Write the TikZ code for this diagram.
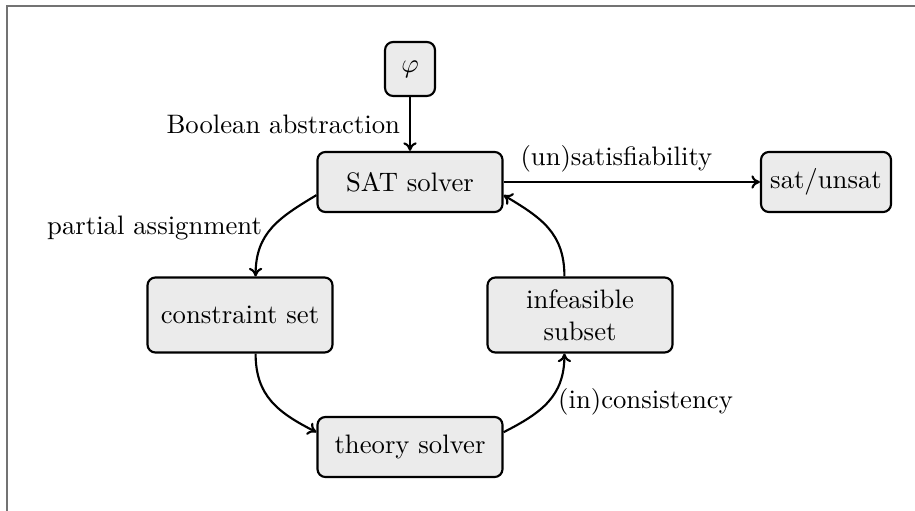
\documentclass[tikz,border=0pt]{standalone}
\usetikzlibrary{arrows.meta}
\begin{document}
\begin{tikzpicture}[x=0.3745pt,y=-0.3745pt,
  box/.style={draw, thick, rounded corners=3pt, fill=black!8, align=center,
    minimum width=69.3pt, minimum height=22.5pt, inner sep=2pt},
  tall/.style={minimum height=28.1pt},
  conn/.style={-{To[length=3.2pt, width=5pt]}, thick},
  frameline/.style={draw=black!55, line width=0.8pt}]
\useasboundingbox (0,0) rectangle (915,511);
\draw[frameline] (7,511) -- (7,6) -- (915,6);

\node[box, minimum width=18.7pt, minimum height=20.2pt] (phi) at (410,69) {$\varphi$};
\node[box] (sat) at (410,182) {SAT solver};
\node[box, minimum width=48.7pt] (res) at (826,182) {sat/unsat};
\node[box, tall] (cs) at (240,315) {constraint set};
\node[box, tall] (is) at (580,315) {infeasible\\subset};
\node[box] (ts) at (410,447) {theory solver};

\draw[conn] (phi) -- node[left] {Boolean abstraction} (sat);
\draw[conn] (sat) -- node[above, pos=0.44] {(un)satisfiability} (res);
\draw[conn] (sat.188) to[out=211, in=90, looseness=1.1] node[left, pos=0.5] {partial assignment} (cs.68);
\draw[conn] (cs.292) to[out=270, in=153, looseness=1.1] (ts.171);
\draw[conn] (ts.9) to[out=27, in=270, looseness=1.1] node[right, pos=0.5] {(in)consistency} (is.248);
\draw[conn] (is.112) to[out=90, in=-31, looseness=1.1] (sat.352);
\end{tikzpicture}
\end{document}
